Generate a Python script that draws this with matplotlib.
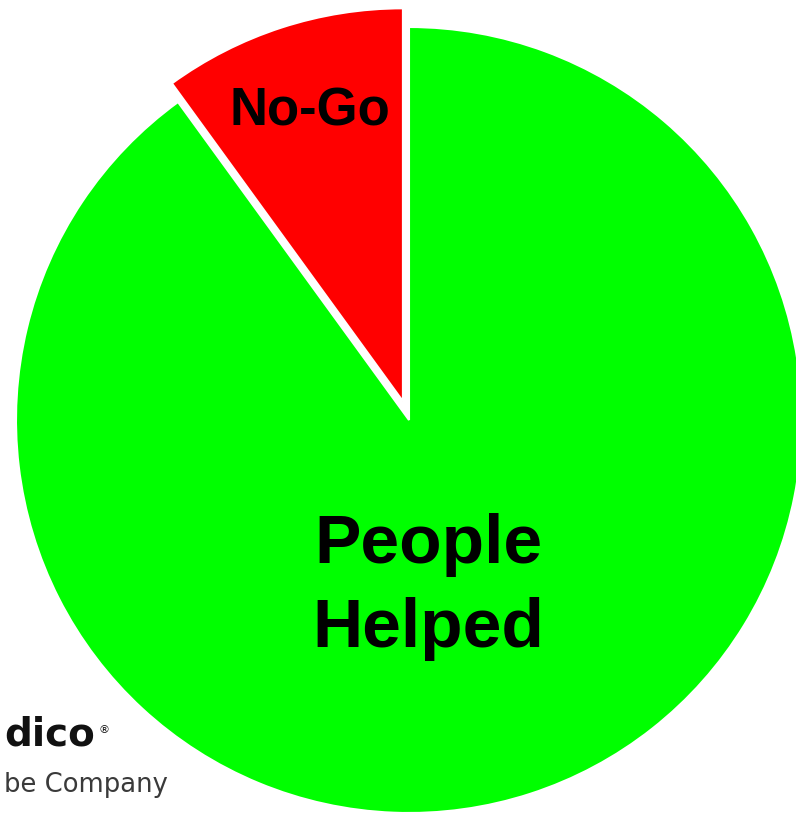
import matplotlib
matplotlib.use("Agg")
import matplotlib.pyplot as plt

# Data
labels = ['No-Go', 'People\nHelped']
shares = [10, 90]
colors = ['#ff0000', '#00ff00']

W, H = 796, 815
radius = 393
fig = plt.figure(figsize=(W / 100, H / 100), dpi=100)
ax = fig.add_axes([0, 0, 1, 1])

# pie in pixel coordinates (y up); explode is in data units here
wedges, _ = ax.pie(shares, colors=colors, explode=[0.05 * radius, 0],
                   startangle=90, counterclock=True,
                   center=(409, H - 420), radius=radius, frame=True,
                   wedgeprops=dict(edgecolor='white', linewidth=1.5))
ax.set_xlim(0, W)
ax.set_ylim(0, H)
ax.set_aspect('equal')
ax.axis('off')

# slice labels
ax.text(310, H - 126, labels[0], ha='center', va='baseline',
        fontsize=38, fontweight='bold', family='Liberation Sans', color='black')
ax.text(428, H - 647, labels[1], ha='center', va='baseline', linespacing=1.4,
        fontsize=50, fontweight='bold', family='Liberation Sans', color='black')

# logo fragment at the bottom left
ax.text(95, H - 745, 'dico', ha='right', va='baseline', fontsize=28,
        fontweight='bold', family='DejaVu Sans', color='#111111')
ax.text(98, H - 733, '®', ha='left', va='baseline', fontsize=8,
        family='DejaVu Sans', color='#111111')
ax.text(168, H - 792, 'be Company', ha='right', va='baseline', fontsize=18.6,
        family='DejaVu Sans', color='#3a3a3a')

fig.savefig('out.png', dpi=100)
